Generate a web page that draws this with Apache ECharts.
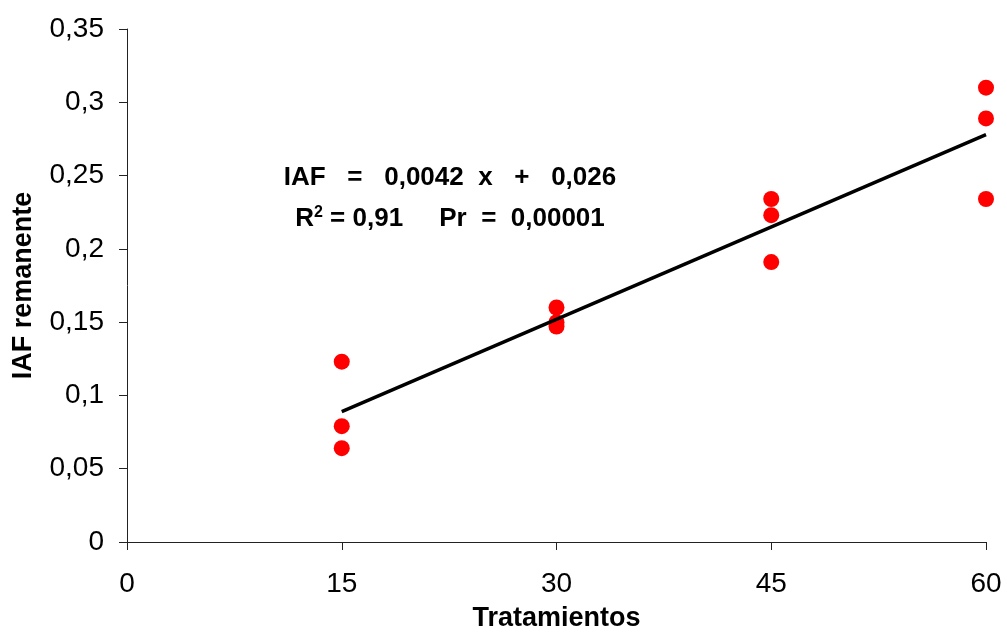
<!DOCTYPE html>
<html>
<head>
<meta charset="utf-8">
<script src="https://cdn.jsdelivr.net/npm/echarts@6/dist/echarts.min.js"></script>
<style>
  html, body { margin: 0; padding: 0; background: #fff; overflow: hidden; }
  #chart { width: 1007px; height: 637px; }
</style>
</head>
<body>
<div id="chart"></div>
<script>
// Treatments (x) and the remaining leaf area index measured at each one
const treatments = [15, 15, 15, 30, 30, 30, 45, 45, 45, 60, 60, 60];
const iafValues  = [0.123, 0.079, 0.064, 0.160, 0.150, 0.147, 0.234, 0.223, 0.191, 0.310, 0.289, 0.234];

// Fitted linear regression: IAF = slope * x + intercept
const slope = 0.0042;
const intercept = 0.026;
const fitRange = [15, 60];

// Axis ticks
const xTicks = [0, 15, 30, 45, 60];
const yTickLabels = ['0', '0,05', '0,1', '0,15', '0,2', '0,25', '0,3', '0,35'];

// Equation text shown inside the plot
const equationLines = ['IAF   =   0,0042  x   +   0,026', 'R{sup|2} = 0,91     Pr  =  0,00001'];

const FONT = '"Liberation Sans", Arial, sans-serif';

const points = treatments.map((x, i) => [x, iafValues[i]]);
const fitLine = fitRange.map(x => [x, slope * x + intercept]);

const chart = echarts.init(document.getElementById('chart'), null, { renderer: 'canvas' });

chart.setOption({
  backgroundColor: '#ffffff',
  animation: false,
  grid: { left: 127, right: 21, top: 29, bottom: 88, containLabel: false },
  xAxis: {
    type: 'value',
    min: xTicks[0],
    max: xTicks[xTicks.length - 1],
    interval: xTicks[1] - xTicks[0],
    name: 'Tratamientos',
    nameLocation: 'middle',
    nameGap: 63,
    nameTextStyle: { fontFamily: FONT, fontSize: 27, fontWeight: 'bold', color: '#000' },
    axisLine: { show: true, onZero: false, lineStyle: { color: '#222', width: 1 } },
    axisTick: { show: true, length: 8, lineStyle: { color: '#222', width: 1 } },
    axisLabel: { fontFamily: FONT, fontSize: 28, color: '#000', margin: 28 },
    splitLine: { show: false }
  },
  yAxis: {
    type: 'value',
    min: 0,
    max: 0.35,
    interval: 0.05,
    name: 'IAF remanente',
    nameLocation: 'middle',
    nameGap: 90,
    nameRotate: 90,
    nameTextStyle: { fontFamily: FONT, fontSize: 27, fontWeight: 'bold', color: '#000' },
    axisLine: { show: true, lineStyle: { color: '#222', width: 1 } },
    axisTick: { show: true, length: 8, lineStyle: { color: '#222', width: 1 } },
    axisLabel: {
      fontFamily: FONT, fontSize: 28, color: '#000', margin: 23,
      formatter: (v, i) => yTickLabels[i]
    },
    splitLine: { show: false }
  },
  series: [
    {
      type: 'scatter',
      data: points,
      symbol: 'circle',
      symbolSize: 16,
      itemStyle: { color: '#ff0000', opacity: 1 },
      z: 2
    },
    {
      type: 'line',
      data: fitLine,
      showSymbol: false,
      symbol: 'none',
      lineStyle: { color: '#000', width: 3.5 },
      z: 3
    }
  ],
  graphic: [
    {
      type: 'text',
      x: 450, y: 178,
      style: {
        text: equationLines[0],
        font: 'bold 26px ' + FONT,
        fill: '#000',
        align: 'center',
        verticalAlign: 'middle'
      }
    },
    {
      type: 'text',
      x: 450, y: 219,
      style: {
        text: equationLines[1],
        font: 'bold 26px ' + FONT,
        fill: '#000',
        align: 'center',
        verticalAlign: 'middle',
        rich: {
          sup: {
            font: 'bold 16px ' + FONT,
            fill: '#000',
            verticalAlign: 'top',
            padding: [0, 0, 12, 0]
          }
        }
      }
    }
  ]
});
</script>
</body>
</html>
